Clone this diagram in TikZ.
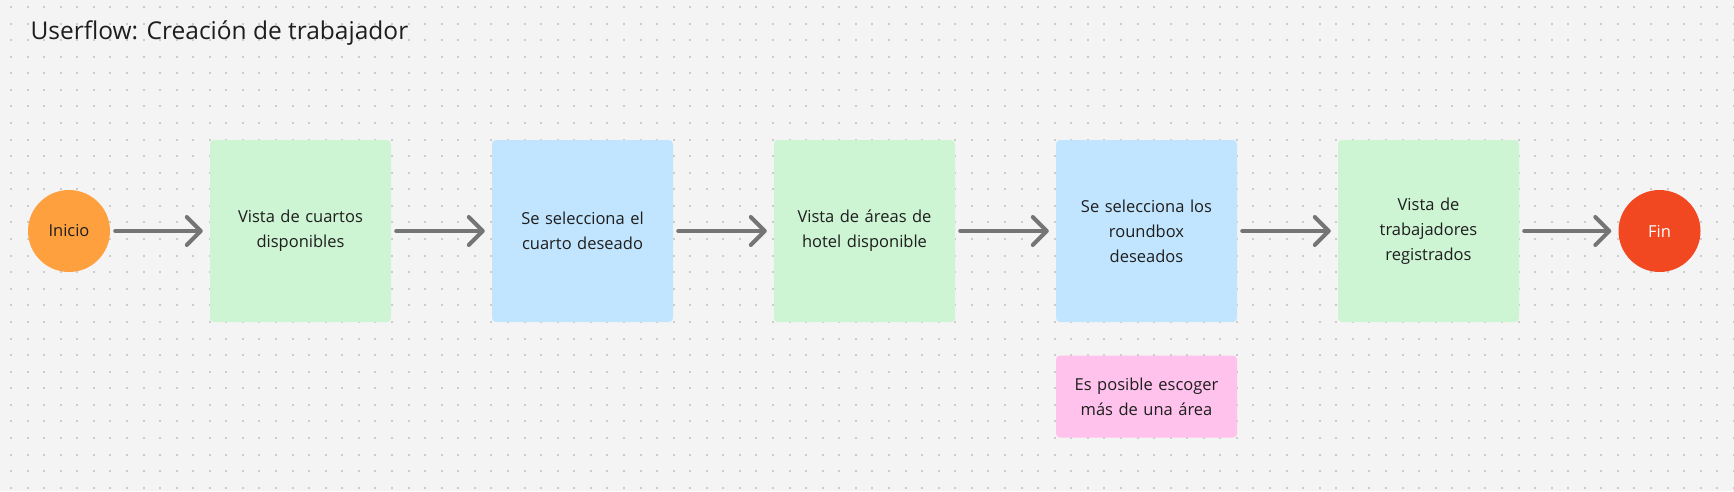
\documentclass[tikz,border=0pt]{standalone}
\usepackage{fontspec}
\setmainfont{Open Sans}
\usetikzlibrary{arrows.meta}
\definecolor{bg}{HTML}{F4F4F4}
\definecolor{dotc}{HTML}{CCCCCC}
\definecolor{greenbox}{HTML}{CDF4D3}
\definecolor{bluebox}{HTML}{C2E5FF}
\definecolor{pinkbox}{HTML}{FFC2EC}
\definecolor{orangec}{HTML}{FFA03F}
\definecolor{redc}{HTML}{F24822}
\definecolor{arrowc}{HTML}{757575}
\definecolor{txt}{HTML}{1E1E1E}
\tikzset{
  stepbox/.style={rectangle, rounded corners=4pt, minimum width=181pt, minimum height=182pt,
    text width=165pt, align=center, inner sep=0pt, text=txt,
    font=\fontsize{16.5pt}{25pt}\selectfont},
  notebox/.style={stepbox, minimum height=82pt},
  endpoint/.style={circle, minimum size=82pt, inner sep=0pt, font=\fontsize{16.5pt}{25pt}\selectfont},
  flow/.style={draw=arrowc, line width=4pt, line cap=round, line join=round,
    -{Straight Barb[length=14pt,width=28pt,line cap=round,line join=round]},
    shorten <=5pt, shorten >=7pt}
}
\begin{document}
\begin{tikzpicture}[x=1pt,y=-1pt]
\useasboundingbox (0,0) rectangle (1734,491);
\fill[bg] (0,0) rectangle (1734,491);
\foreach \i in {0,...,104}{
  \foreach \j in {0,...,29}{
    \fill[dotc] ({11+16.566*\i-1},{7+16.576*\j-1}) rectangle ++(2,2);
  }
}
\node[anchor=base west, text=txt, font=\fontsize{24.5pt}{28pt}\selectfont] (title) at (27,39.3) {Userflow: Creación de trabajador};

\node[endpoint, fill=orangec, text=txt] (inicio) at (69,231) {Inicio};
\node[stepbox, fill=greenbox] (b1) at (300.5,231) {Vista de cuartos\\disponibles};
\node[stepbox, fill=bluebox] (b2) at (582.5,231) {Se selecciona el\\cuarto deseado};
\node[stepbox, fill=greenbox] (b3) at (864.5,231) {Vista de áreas de\\hotel disponible};
\node[stepbox, fill=bluebox] (b4) at (1146.5,231) {Se selecciona los\\roundbox\\deseados};
\node[stepbox, fill=greenbox] (b5) at (1428.5,231) {Vista de\\trabajadores\\registrados};
\node[endpoint, fill=redc, text=white] (fin) at (1659.5,231) {Fin};
\node[notebox, fill=pinkbox] (note) at (1146.5,396.5) {Es posible escoger\\más de una área};

\draw[flow] (inicio) -- (b1);
\draw[flow] (b1) -- (b2);
\draw[flow] (b2) -- (b3);
\draw[flow] (b3) -- (b4);
\draw[flow] (b4) -- (b5);
\draw[flow] (b5) -- (fin);
\end{tikzpicture}
\end{document}
